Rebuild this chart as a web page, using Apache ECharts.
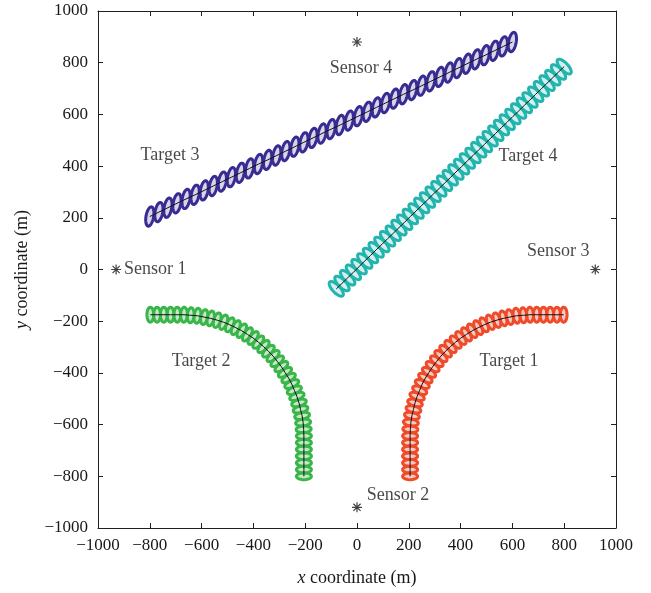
<!DOCTYPE html>
<html>
<head>
<meta charset="utf-8">
<script src="https://cdn.jsdelivr.net/npm/echarts@6/dist/echarts.min.js"></script>
<style>
  html, body { margin: 0; padding: 0; background: #fff; }
  #chart { width: 651px; height: 593px; }
</style>
</head>
<body>
<div id="chart"></div>
<script>
// track centres (m)
const t1x = [205, 205, 205, 205, 205, 205, 205, 206, 208, 212, 218, 224, 232, 242, 252, 264, 278, 292, 308, 324, 342, 361, 381, 401, 423, 445, 468, 491, 515, 540, 565, 590, 616, 642, 668, 694, 720, 746, 772, 798];
const t1y = [-800, -774, -748, -722, -696, -670, -644, -618, -592, -566, -541, -516, -491, -467, -443, -420, -398, -376, -355, -335, -316, -298, -281, -265, -251, -237, -225, -214, -204, -196, -189, -184, -179, -177, -175, -175, -175, -175, -175, -175];
const t2x = [-205, -205, -205, -205, -205, -205, -205, -206, -208, -212, -218, -224, -232, -242, -252, -264, -278, -292, -308, -324, -342, -361, -381, -401, -423, -445, -468, -491, -515, -540, -565, -590, -616, -642, -668, -694, -720, -746, -772, -798];
const t2y = [-800, -774, -748, -722, -696, -670, -644, -618, -592, -566, -541, -516, -491, -467, -443, -420, -398, -376, -355, -335, -316, -298, -281, -265, -251, -237, -225, -214, -204, -196, -189, -184, -179, -177, -175, -175, -175, -175, -175, -175];
const t3x = [-800, -765, -730, -695, -660, -625, -590, -555, -520, -485, -450, -415, -380, -345, -310, -275, -240, -205, -170, -135, -100, -65, -30, 5, 40, 75, 110, 145, 180, 215, 250, 285, 320, 355, 390, 425, 460, 495, 530, 565, 600];
const t3y = [205, 222, 239, 256, 273, 289, 306, 323, 340, 357, 374, 391, 408, 424, 441, 458, 475, 492, 509, 526, 543, 559, 576, 593, 610, 627, 644, 661, 678, 694, 711, 728, 745, 762, 779, 796, 813, 829, 846, 863, 880];
const t4x = [-80, -58, -36, -14, 8, 30, 52, 74, 96, 118, 140, 162, 184, 206, 228, 250, 272, 294, 316, 338, 360, 382, 404, 426, 448, 470, 492, 514, 536, 558, 580, 602, 624, 646, 668, 690, 712, 734, 756, 778, 800];
const t4y = [-75, -54, -32, -11, 11, 33, 54, 76, 97, 119, 140, 162, 183, 205, 226, 248, 269, 291, 312, 334, 355, 377, 398, 420, 441, 463, 484, 506, 527, 549, 570, 592, 613, 635, 656, 678, 699, 721, 742, 764, 785];

const sensorNames = ['Sensor 1', 'Sensor 2', 'Sensor 3', 'Sensor 4'];
const sensorX = [-930, 0, 920, 0];
const sensorY = [0, -920, 0, 880];

const targetNames = ['Target 1', 'Target 2', 'Target 3', 'Target 4'];
const targetLabelX = [587, -602, -722, 660];
const targetLabelY = [-354, -354, 443, 439];

const FONT = '"Liberation Serif", "DejaVu Serif", serif';
const TXT = '#1a1718';
const FS = 18;

// asterisk made of four bars
const STAR = 'path://M8.8,0 L11.2,0 L11.2,20 L8.8,20 Z M0,8.8 L20,8.8 L20,11.2 L0,11.2 Z M2,3.7 L3.7,2 L18,16.3 L16.3,18 Z M16.3,2 L18,3.7 L3.7,18 L2,16.3 Z';

// a, b: semi axes in px; tilt: fixed angle (deg) of the long axis, or null = across the track
function ellipses(xs, ys, color, fill, a, b, tilt) {
  const n = xs.length;
  return {
    type: 'custom',
    z: 2,
    silent: true,
    data: xs.map((x, i) => [x, ys[i]]),
    encode: { x: 0, y: 1 },
    renderItem(params, api) {
      const i = params.dataIndex;
      const c = api.coord([xs[i], ys[i]]);
      let nx, ny;
      if (tilt == null) {
        const i0 = Math.max(i - 1, 0), i1 = Math.min(i + 1, n - 1);
        const p0 = api.coord([xs[i0], ys[i0]]);
        const p1 = api.coord([xs[i1], ys[i1]]);
        const dx = p1[0] - p0[0], dy = p1[1] - p0[1];
        const L = Math.hypot(dx, dy) || 1;
        nx = -dy / L; ny = dx / L;
      } else {
        const r = tilt * Math.PI / 180;
        nx = Math.cos(r); ny = -Math.sin(r);
      }
      const mx = -ny, my = nx;
      const pts = [];
      for (let k = 0; k < 40; k++) {
        const t = k / 40 * Math.PI * 2;
        const ca = Math.cos(t) * a, sb = Math.sin(t) * b;
        pts.push([c[0] + ca * nx + sb * mx, c[1] + ca * ny + sb * my]);
      }
      return {
        type: 'polygon',
        shape: { points: pts },
        style: { fill: fill, stroke: color, lineWidth: 3 }
      };
    }
  };
}

function track(xs, ys) {
  return {
    type: 'line',
    z: 3,
    silent: true,
    data: xs.map((x, i) => [x, ys[i]]),
    symbol: 'none',
    lineStyle: { color: '#111', width: 1 },
    animation: false
  };
}

const minus = v => String(v).replace('-', '\u2212');

const baseAxis = {
  type: 'value', min: -1000, max: 1000, interval: 200,
  axisLine: { show: true, onZero: false, lineStyle: { color: '#231f20', width: 1 } },
  axisTick: { show: true, inside: true, length: 5, lineStyle: { color: '#231f20' } },
  splitLine: { show: false }
};
const nameStyle = {
  color: TXT, fontFamily: FONT, fontSize: FS,
  rich: { i: { fontStyle: 'italic', fontFamily: FONT, fontSize: FS, color: TXT } }
};

const chart = echarts.init(document.getElementById('chart'));
chart.setOption({
  animation: false,
  grid: { left: 98, right: 35, top: 11, bottom: 65 },
  xAxis: [
    Object.assign({}, baseAxis, {
      name: '{i|x} coordinate (m)', nameLocation: 'middle', nameGap: 41,
      nameTextStyle: nameStyle,
      axisLabel: { color: TXT, fontFamily: FONT, fontSize: FS - 1, margin: 9, formatter: minus }
    }),
    Object.assign({}, baseAxis, { position: 'top', axisLabel: { show: false } })
  ],
  yAxis: [
    Object.assign({}, baseAxis, {
      name: '{i|y} coordinate (m)', nameLocation: 'middle', nameGap: 67,
      nameTextStyle: nameStyle,
      axisLabel: { color: TXT, fontFamily: FONT, fontSize: FS - 1, margin: 10, formatter: minus }
    }),
    Object.assign({}, baseAxis, { position: 'right', axisLabel: { show: false } })
  ],
  series: [
    ellipses(t1x, t1y, '#ee4b2b', 'rgba(238,75,43,0.3)', 7.5, 3.4, null),
    ellipses(t2x, t2y, '#3ab54a', 'rgba(58,181,74,0.3)', 7.5, 3.4, null),
    ellipses(t3x, t3y, '#382c92', 'rgba(56,44,146,0.2)', 9.8, 3.8, 80),
    ellipses(t4x, t4y, '#22b4ad', 'rgba(34,180,173,0.2)', 9.5, 3.8, null),
    track(t1x, t1y), track(t2x, t2y), track(t3x, t3y), track(t4x, t4y),
    {
      type: 'scatter', z: 4, silent: true,
      symbol: STAR, symbolSize: 10,
      itemStyle: { color: '#111' },
      data: sensorNames.map((s, i) => ({
        name: s, value: [sensorX[i], sensorY[i]],
        label: { offset: [[39, 0], [41, -12], [-37, -18], [4, 26]][i] }
      })),
      label: { show: true, position: 'inside', formatter: '{b}',
        color: TXT, fontFamily: FONT, fontSize: FS }
    },
    {
      type: 'scatter', z: 4, silent: true, symbolSize: 0,
      data: targetNames.map((s, i) => ({ name: s, value: [targetLabelX[i], targetLabelY[i]] })),
      label: { show: true, position: 'inside', formatter: '{b}',
        color: TXT, fontFamily: FONT, fontSize: FS }
    }
  ]
});
</script>
</body>
</html>
